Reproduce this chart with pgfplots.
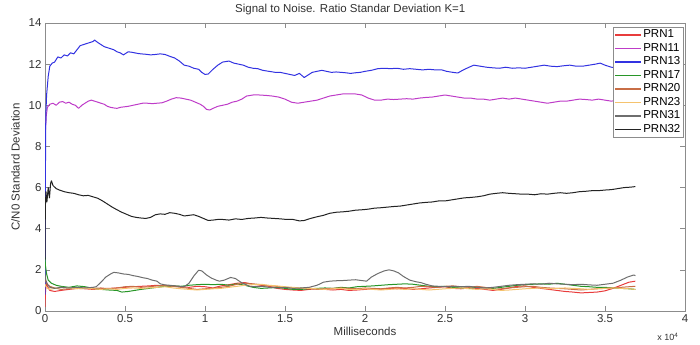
\documentclass[border=0pt]{standalone}
\usepackage{fontspec}
\setmainfont{Liberation Sans}
\usepackage{pgfplots}
\pgfplotsset{compat=1.18}

\definecolor{prnA}{RGB}{232,60,60}
\definecolor{prnB}{RGB}{190,60,200}
\definecolor{prnC}{RGB}{50,50,225}
\definecolor{prnD}{RGB}{40,150,40}
\definecolor{prnE}{RGB}{200,110,70}
\definecolor{prnF}{RGB}{245,195,110}
\definecolor{prnG}{RGB}{110,110,110}
\definecolor{prnH}{RGB}{35,35,35}
\definecolor{boxgray}{RGB}{140,140,140}
\definecolor{labgray}{RGB}{50,50,50}

\begin{document}
\begin{tikzpicture}
\useasboundingbox (0,0) rectangle (700bp,345bp);
\begin{axis}[
  at={(45bp,34bp)}, anchor=south west,
  scale only axis, width=640bp, height=288bp,
  xmin=0, xmax=40000, ymin=0, ymax=14,
  scaled x ticks=false,
  xtick={0,5000,10000,15000,20000,25000,30000,35000,40000},
  xticklabels={0,0.5,1,1.5,2,2.5,3,3.5,4},
  ytick={0,2,4,6,8,10,12,14},
  tick align=inside, tick pos=both,
  major tick length=5bp,
  tick style={boxgray, line width=0.6bp},
  axis line style={boxgray, line width=0.7bp},
  font=\fontsize{11.5bp}{13bp}\selectfont,
  tick label style={labgray},
  /pgf/number format/assume math mode=true,
  xlabel={Milliseconds},
  xlabel style={labgray, yshift=2bp},
  ylabel={C/N0 Standard Deviation},
  ylabel style={labgray, yshift=2bp},
  title={Signal to Noise. Ratio Standar Deviation K=1},
  title style={labgray, at={(axis description cs:0.477,1)}, yshift=-1bp},
  legend cell align=left,
  legend style={at={(0.997,0.986)}, anchor=north east, draw=boxgray,
    font=\fontsize{11.5bp}{13bp}\selectfont,
    inner sep=1bp, row sep=0pt,
    nodes={inner sep=1.5bp, text height=8.2bp, text depth=2.3bp}},
  legend image code/.code={\draw[#1, line width=1.3bp] (0bp,0bp) -- (26bp,0bp);},
  every axis plot/.append style={line width=1bp, line join=round},
  clip mode=individual,
]

% PRN1
\addplot[draw=prnA] coordinates {
(0,0.2)(30,0.9)(80,1.4)(150,1.2)(300,1.0)(600,0.95)(1000,1.0)(1500,1.05)(2000,1.1)(2500,1.08)
(3000,1.05)(3500,1.08)(4000,1.1)(4500,1.12)(5000,1.15)(5500,1.18)(6000,1.2)(6500,1.22)(7000,1.25)
(7500,1.2)(8000,1.22)(8500,1.18)(9000,1.15)(9500,1.2)(10000,1.18)(10500,1.12)(11000,1.22)(11500,1.28)
(12000,1.35)(12500,1.38)(13000,1.3)(13500,1.25)(14000,1.2)(14500,1.1)(15000,1.05)(15500,1.02)
(16000,1.0)(16500,1.05)(17000,1.08)(17500,1.05)(18000,1.02)(18500,1.05)(19000,1.0)(19500,1.02)
(20000,1.05)(20500,1.08)(21000,1.05)(21500,1.1)(22000,1.08)(22500,1.1)(23000,1.05)(23500,1.08)
(24000,1.12)(24500,1.15)(25000,1.18)(25500,1.1)(26000,1.08)(26500,1.12)(27000,1.1)(27500,1.05)
(28000,1.0)(28500,1.05)(29000,1.12)(29500,1.2)(30000,1.22)(30500,1.15)(31000,1.1)(31500,1.05)
(32000,1.0)(32500,0.95)(33000,0.92)(33500,0.88)(34000,0.9)(34500,0.92)(35000,0.98)(35500,1.1)
(36000,1.25)(36500,1.4)(36900,1.45)};
\addlegendentry{PRN1}

% PRN11
\addplot[draw=prnB] coordinates {
(0,7.5)(30,8.8)(80,9.5)(150,9.9)(300,10.05)(500,10.1)(700,10.0)(900,10.15)(1100,10.18)(1300,10.1)
(1500,10.15)(1700,10.05)(1900,10.0)(2100,9.85)(2300,10.0)(2500,10.1)(2700,10.2)(2900,10.25)
(3100,10.2)(3300,10.15)(3500,10.1)(3700,10.05)(3900,9.95)(4100,9.9)(4300,9.87)(4500,9.85)
(4700,9.9)(4900,9.92)(5200,9.95)(5500,10.0)(5800,10.05)(6100,10.1)(6400,10.1)(6700,10.08)
(7000,10.1)(7300,10.12)(7600,10.2)(7900,10.3)(8200,10.37)(8500,10.35)(8800,10.3)(9100,10.25)
(9400,10.15)(9700,10.05)(9900,9.95)(10100,9.8)(10300,9.77)(10500,9.85)(10800,9.95)(11100,10.0)
(11400,10.05)(11700,10.15)(12000,10.2)(12300,10.3)(12600,10.45)(13000,10.5)(13400,10.5)
(13800,10.48)(14200,10.45)(14600,10.4)(15000,10.3)(15400,10.15)(15800,10.1)(16200,10.15)
(16600,10.2)(17000,10.25)(17400,10.35)(17800,10.45)(18200,10.5)(18600,10.55)(19000,10.55)
(19400,10.55)(19800,10.5)(20200,10.35)(20600,10.25)(21000,10.25)(21400,10.3)(21800,10.28)
(22200,10.3)(22600,10.32)(23000,10.3)(23400,10.35)(23800,10.38)(24200,10.4)(24600,10.45)
(25000,10.5)(25400,10.45)(25800,10.4)(26200,10.35)(26600,10.35)(27000,10.3)(27400,10.3)
(27800,10.25)(28200,10.3)(28600,10.35)(29000,10.3)(29400,10.35)(29800,10.3)(30200,10.25)
(30600,10.2)(31000,10.15)(31400,10.1)(31800,10.15)(32200,10.2)(32600,10.2)(33000,10.25)
(33400,10.3)(33800,10.28)(34200,10.25)(34600,10.3)(35000,10.25)(35400,10.2)(35800,10.25)
(36200,10.2)(36600,10.25)(36900,10.2)};
\addlegendentry{PRN11}

% PRN13
\addplot[draw=prnC] coordinates {
(0,0.8)(20,6.0)(50,9.5)(100,10.5)(200,11.4)(300,11.9)(450,12.05)(600,12.1)(800,12.35)(1000,12.3)
(1200,12.45)(1400,12.4)(1600,12.55)(1800,12.5)(2000,12.7)(2200,12.9)(2400,12.95)(2600,13.0)
(2800,13.05)(3000,13.1)(3100,13.17)(3300,13.05)(3500,12.95)(3700,12.85)(3900,12.8)(4100,12.75)
(4300,12.7)(4500,12.6)(4700,12.55)(4900,12.45)(5000,12.5)(5200,12.6)(5400,12.58)(5600,12.55)
(5800,12.52)(6000,12.5)(6300,12.48)(6600,12.45)(6900,12.47)(7200,12.5)(7500,12.47)(7800,12.38)
(8100,12.3)(8400,12.15)(8700,11.95)(9000,11.9)(9300,11.8)(9600,11.75)(9800,11.6)(10000,11.5)
(10200,11.52)(10500,11.75)(10800,11.95)(11100,12.1)(11500,12.15)(11800,12.05)(12100,12.0)
(12400,11.95)(12700,11.85)(13000,11.8)(13300,11.78)(13600,11.7)(14000,11.65)(14400,11.6)
(14700,11.6)(15000,11.55)(15300,11.5)(15600,11.45)(15900,11.55)(16200,11.35)(16400,11.45)
(16700,11.6)(17000,11.65)(17300,11.7)(17600,11.65)(17900,11.6)(18200,11.62)(18500,11.6)
(18800,11.58)(19100,11.55)(19400,11.58)(19700,11.6)(20000,11.65)(20400,11.7)(20800,11.78)
(21200,11.8)(21600,11.78)(22000,11.8)(22400,11.75)(22800,11.78)(23200,11.75)(23600,11.72)
(24000,11.75)(24400,11.72)(24800,11.72)(25100,11.65)(25500,11.6)(25800,11.57)(26100,11.7)
(26500,11.85)(26800,11.95)(27200,11.9)(27600,11.85)(28000,11.82)(28400,11.8)(28800,11.85)
(29200,11.8)(29600,11.82)(30000,11.8)(30400,11.85)(30800,11.9)(31200,11.95)(31600,11.9)
(32000,11.88)(32400,11.92)(32800,11.95)(33200,11.9)(33600,11.9)(34000,11.95)(34400,12.0)
(34700,12.05)(35000,11.95)(35400,11.85)(35800,11.8)(36200,11.85)(36600,11.75)(36900,11.8)};
\addlegendentry{PRN13}

% PRN17
\addplot[draw=prnD] coordinates {
(0,2.6)(30,2.2)(100,1.8)(200,1.5)(400,1.35)(700,1.25)(1000,1.2)(1500,1.15)(2000,1.22)(2500,1.18)
(3000,1.1)(3500,1.05)(4000,1.02)(4500,1.0)(4800,0.92)(5200,0.95)(5600,1.0)(6000,1.05)(6500,1.1)
(7000,1.15)(7500,1.2)(8000,1.22)(8500,1.2)(9000,1.25)(9500,1.28)(10000,1.3)(10500,1.28)(11000,1.3)
(11500,1.25)(12000,1.32)(12500,1.25)(13000,1.15)(13500,1.1)(14000,1.12)(14500,1.15)(15000,1.1)
(15500,1.05)(16000,1.05)(16500,1.08)(17000,1.1)(17500,1.12)(18000,1.1)(18500,1.15)(19000,1.12)
(19500,1.18)(20000,1.2)(20500,1.22)(21000,1.25)(21500,1.28)(22000,1.3)(22500,1.32)(23000,1.3)
(23500,1.25)(24000,1.2)(24500,1.18)(25000,1.2)(25500,1.15)(26000,1.12)(26500,1.1)(27000,1.15)
(27500,1.12)(28000,1.1)(28500,1.15)(29000,1.2)(29500,1.25)(30000,1.28)(30500,1.3)(31000,1.32)
(31500,1.3)(32000,1.35)(32500,1.3)(33000,1.25)(33500,1.2)(34000,1.18)(34500,1.15)(35000,1.15)
(35500,1.12)(36000,1.1)(36500,1.08)(36900,1.05)};
\addlegendentry{PRN17}

% PRN20
\addplot[draw=prnE] coordinates {
(0,1.6)(50,1.45)(150,1.3)(300,1.2)(600,1.12)(1000,1.05)(1500,1.08)(2000,1.1)(2500,1.12)(3000,1.1)
(3500,1.12)(4000,1.08)(4500,1.12)(5000,1.18)(5500,1.2)(6000,1.15)(6500,1.18)(7000,1.22)(7500,1.25)
(8000,1.2)(8500,1.15)(9000,1.1)(9500,1.05)(10000,1.08)(10500,1.1)(11000,1.15)(11500,1.2)(12000,1.3)
(12500,1.35)(13000,1.32)(13500,1.28)(14000,1.22)(14500,1.2)(15000,1.15)(15500,1.12)(16000,1.1)
(16500,1.12)(17000,1.05)(17500,1.08)(18000,1.1)(18500,1.12)(19000,1.1)(19500,1.08)(20000,1.12)
(20500,1.1)(21000,1.08)(21500,1.12)(22000,1.15)(22500,1.12)(23000,1.15)(23500,1.2)(24000,1.18)
(24500,1.15)(25000,1.2)(25500,1.22)(26000,1.18)(26500,1.15)(27000,1.2)(27500,1.15)(28000,1.05)
(28500,1.08)(29000,1.12)(29500,1.15)(30000,1.18)(30500,1.2)(31000,1.15)(31500,1.12)(32000,1.1)
(32500,1.08)(33000,1.05)(33500,1.02)(34000,1.05)(34500,1.08)(35000,1.1)(35500,1.12)(36000,1.15)
(36500,1.18)(36900,1.2)};
\addlegendentry{PRN20}

% PRN23
\addplot[draw=prnF] coordinates {
(0,1.3)(50,1.2)(150,1.1)(300,1.05)(600,1.1)(1000,1.15)(1500,1.12)(2000,1.08)(2500,1.1)(3000,1.08)
(3500,1.05)(4000,1.08)(4500,1.05)(5000,1.1)(5500,1.12)(6000,1.1)(6500,1.12)(7000,1.15)(7500,1.18)
(8000,1.12)(8500,1.08)(9000,1.05)(9500,1.02)(10000,1.05)(10500,1.08)(11000,1.1)(11500,1.15)
(12000,1.2)(12500,1.25)(13000,1.28)(13500,1.3)(14000,1.25)(14500,1.22)(15000,1.18)(15500,1.15)
(16000,1.12)(16500,1.1)(17000,1.08)(17500,1.05)(18000,1.08)(18500,1.1)(19000,1.05)(19500,1.05)
(20000,1.08)(20500,1.05)(21000,1.02)(21500,1.05)(22000,1.08)(22500,1.05)(23000,1.08)(23500,1.05)
(24000,1.02)(24500,1.05)(25000,1.08)(25500,1.1)(26000,1.12)(26500,1.08)(27000,1.05)(27500,1.08)
(28000,1.05)(28500,1.0)(29000,1.02)(29500,1.05)(30000,1.08)(30500,1.1)(31000,1.12)(31500,1.08)
(32000,1.1)(32500,1.12)(33000,1.1)(33500,1.08)(34000,1.05)(34500,1.08)(35000,1.1)(35500,1.12)
(36000,1.1)(36500,1.08)(36900,1.05)};
\addlegendentry{PRN23}

% PRN31
\addplot[draw=prnG] coordinates {
(0,1.8)(50,1.5)(150,1.3)(300,1.15)(600,1.1)(1000,1.15)(1500,1.12)(2000,1.15)(2500,1.12)(3000,1.15)
(3200,1.18)(3500,1.4)(3800,1.65)(4100,1.8)(4300,1.88)(4600,1.85)(4900,1.8)(5200,1.78)(5500,1.72)
(5800,1.68)(6100,1.62)(6400,1.58)(6700,1.5)(7000,1.45)(7200,1.32)(7500,1.27)(7800,1.25)(8100,1.22)
(8400,1.2)(8700,1.18)(9000,1.35)(9300,1.7)(9600,1.98)(9800,1.95)(10100,1.75)(10400,1.6)(10700,1.5)
(10900,1.45)(11200,1.5)(11600,1.63)(11900,1.58)(12200,1.42)(12500,1.3)(12800,1.2)(13200,1.18)
(13600,1.2)(14000,1.15)(14500,1.12)(15000,1.15)(15500,1.1)(16000,1.12)(16500,1.15)(17000,1.25)
(17400,1.4)(17800,1.45)(18200,1.47)(18600,1.48)(19000,1.5)(19400,1.52)(19800,1.48)(20100,1.45)
(20400,1.65)(20800,1.82)(21200,1.95)(21500,2.0)(21800,1.95)(22100,1.85)(22400,1.68)(22800,1.5)
(23200,1.42)(23500,1.38)(23800,1.3)(24200,1.22)(24600,1.2)(25000,1.18)(25500,1.2)(26000,1.18)
(26500,1.2)(27000,1.15)(27500,1.12)(28000,1.15)(28500,1.2)(29000,1.25)(29500,1.28)(30000,1.3)
(30500,1.32)(31000,1.3)(31500,1.35)(32000,1.32)(32500,1.3)(33000,1.28)(33500,1.3)(34000,1.27)
(34500,1.25)(35000,1.3)(35500,1.35)(36000,1.5)(36400,1.65)(36800,1.75)(36900,1.72)};
\addlegendentry{PRN31}

% PRN32
\addplot[draw=prnH] coordinates {
(0,2.5)(20,5.0)(60,5.8)(120,5.3)(200,6.0)(280,5.5)(350,6.2)(400,6.33)(500,6.1)(700,5.95)(900,5.88)
(1200,5.8)(1500,5.75)(1800,5.72)(2100,5.65)(2400,5.6)(2700,5.62)(3000,5.55)(3300,5.48)(3600,5.35)
(3900,5.2)(4200,5.05)(4500,4.92)(4800,4.8)(5100,4.7)(5400,4.6)(5700,4.55)(6000,4.52)(6300,4.5)
(6600,4.55)(6900,4.68)(7200,4.72)(7500,4.7)(7800,4.78)(8100,4.75)(8400,4.7)(8700,4.62)(9000,4.65)
(9300,4.68)(9600,4.6)(9900,4.5)(10200,4.4)(10500,4.42)(10800,4.45)(11100,4.45)(11500,4.42)
(11900,4.48)(12300,4.45)(12700,4.5)(13100,4.52)(13500,4.55)(13900,4.52)(14300,4.5)(14700,4.48)
(15100,4.45)(15500,4.45)(15900,4.38)(16200,4.4)(16600,4.5)(17000,4.58)(17400,4.65)(17800,4.75)
(18200,4.8)(18600,4.82)(19000,4.85)(19400,4.9)(19800,4.92)(20200,4.95)(20600,5.0)(21000,5.02)
(21400,5.05)(21800,5.08)(22200,5.1)(22600,5.15)(23000,5.2)(23400,5.25)(23800,5.28)(24200,5.3)
(24600,5.35)(25000,5.35)(25400,5.4)(25800,5.45)(26200,5.5)(26600,5.52)(27000,5.55)(27400,5.6)
(27800,5.68)(28200,5.72)(28600,5.75)(29000,5.72)(29400,5.7)(29800,5.68)(30200,5.68)(30600,5.65)
(31000,5.7)(31400,5.68)(31800,5.72)(32200,5.75)(32600,5.72)(33000,5.75)(33400,5.8)(33800,5.82)
(34200,5.85)(34600,5.85)(35000,5.88)(35400,5.9)(35800,5.95)(36200,6.0)(36600,6.02)(36900,6.05)};
\addlegendentry{PRN32}

\node[labgray, anchor=east, font=\fontsize{9bp}{10bp}\selectfont]
  at (axis description cs:0.995,-0.09) {x 10\textsuperscript{4}};
\end{axis}
\end{tikzpicture}
\end{document}
